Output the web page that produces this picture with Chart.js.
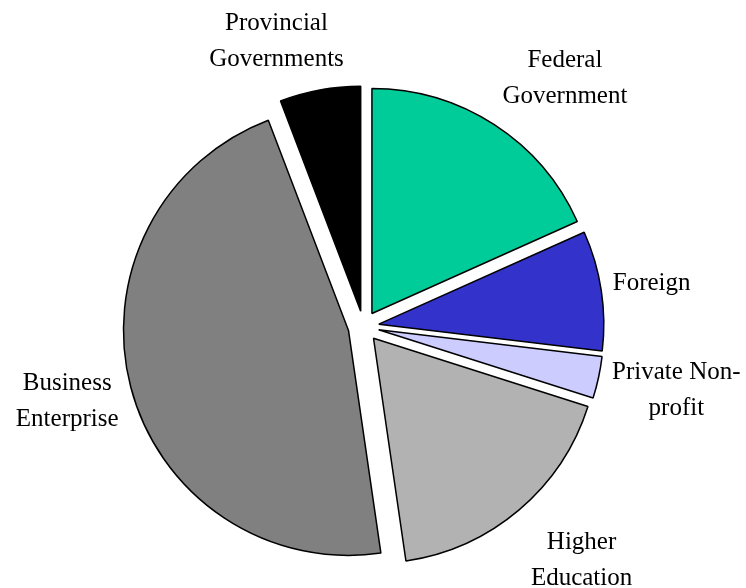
<!DOCTYPE html>
<html>
<head>
<meta charset="utf-8">
<script src="https://cdn.jsdelivr.net/npm/chart.js@4/dist/chart.umd.min.js"></script>
<style>
  html, body { margin: 0; padding: 0; background: #ffffff; }
  #wrap { width: 746px; height: 588px; position: relative; }
</style>
</head>
<body>
<div id="wrap"><canvas id="pie" width="746" height="588"></canvas></div>
<script>
// Sources of R&D funding (% share)
const categories = [
  'Federal Government',
  'Foreign',
  'Private Non-profit',
  'Higher Education',
  'Business Enterprise',
  'Provincial Governments'
];
const labelLines = [
  ['Federal', 'Government'],
  ['Foreign'],
  ['Private Non-', 'profit'],
  ['Higher', 'Education'],
  ['Business', 'Enterprise'],
  ['Provincial', 'Governments']
];
const shares = [18.3, 8.6, 3.0, 17.8, 46.5, 5.8];
const sliceColors = ['#00cc99', '#3333cc', '#ccccff', '#b2b2b2', '#808080', '#000000'];

// Distance every slice is pulled out from the centre.
const EXPLODE = 15.5;
// Per-label fine tuning: [angle nudge in degrees, gap beyond the rim in px]
const labelTweaks = [[6.2, 16.5], [-0.3, 10], [-1.1, 8], [-3, 18], [0.7, 6], [-6.8, 11.5]];
const FONT = '25px "Liberation Serif", "Times New Roman", serif';
const LINE_H = 36;
const CAP_MID = 8.4; // baseline offset that centres capitals on a line

// Draws each arc shifted outward along its mid-angle.
const explodedArcs = {
  id: 'explodedArcs',
  beforeDatasetDraw(chart, args) {
    const ctx = chart.ctx;
    args.meta.data.forEach(arc => {
      const mid = (arc.startAngle + arc.endAngle) / 2;
      ctx.save();
      ctx.translate(Math.cos(mid) * EXPLODE, Math.sin(mid) * EXPLODE);
      arc.draw(ctx);
      ctx.restore();
    });
    return false;
  }
};

// Category names placed outside the rim of each slice.
const outsideLabels = {
  id: 'outsideLabels',
  afterDatasetsDraw(chart) {
    const ctx = chart.ctx;
    const meta = chart.getDatasetMeta(0);
    ctx.save();
    ctx.font = FONT;
    ctx.fillStyle = '#000000';
    ctx.textAlign = 'center';
    ctx.textBaseline = 'alphabetic';
    meta.data.forEach((arc, i) => {
      const lines = labelLines[i];
      const mid = (arc.startAngle + arc.endAngle) / 2;
      const mx = Math.cos(mid), my = Math.sin(mid);
      const sx = arc.x + mx * EXPLODE;
      const sy = arc.y + my * EXPLODE;
      const w = Math.max(...lines.map(l => ctx.measureText(l).width));
      const h = lines.length * LINE_H;
      const [nudge, gap] = labelTweaks[i];
      const dist = arc.outerRadius + gap + Math.abs(mx) * w / 2 + Math.abs(my) * h / 2;
      const a = mid + nudge * Math.PI / 180;
      const cx = sx + Math.cos(a) * dist;
      const cy = sy + Math.sin(a) * dist;
      lines.forEach((line, j) => {
        ctx.fillText(line, cx, cy + (j - (lines.length - 1) / 2) * LINE_H + CAP_MID);
      });
    });
    ctx.restore();
  }
};

new Chart(document.getElementById('pie'), {
  type: 'pie',
  data: {
    labels: categories,
    datasets: [{
      data: shares,
      backgroundColor: sliceColors,
      borderColor: '#000000',
      borderWidth: 1.5
    }]
  },
  options: {
    responsive: false,
    animation: false,
    radius: 225,
    layout: { padding: { left: 0, right: 19, top: 65, bottom: 0 } },
    plugins: {
      legend: { display: false },
      tooltip: { enabled: false }
    }
  },
  plugins: [explodedArcs, outsideLabels]
});
</script>
</body>
</html>
